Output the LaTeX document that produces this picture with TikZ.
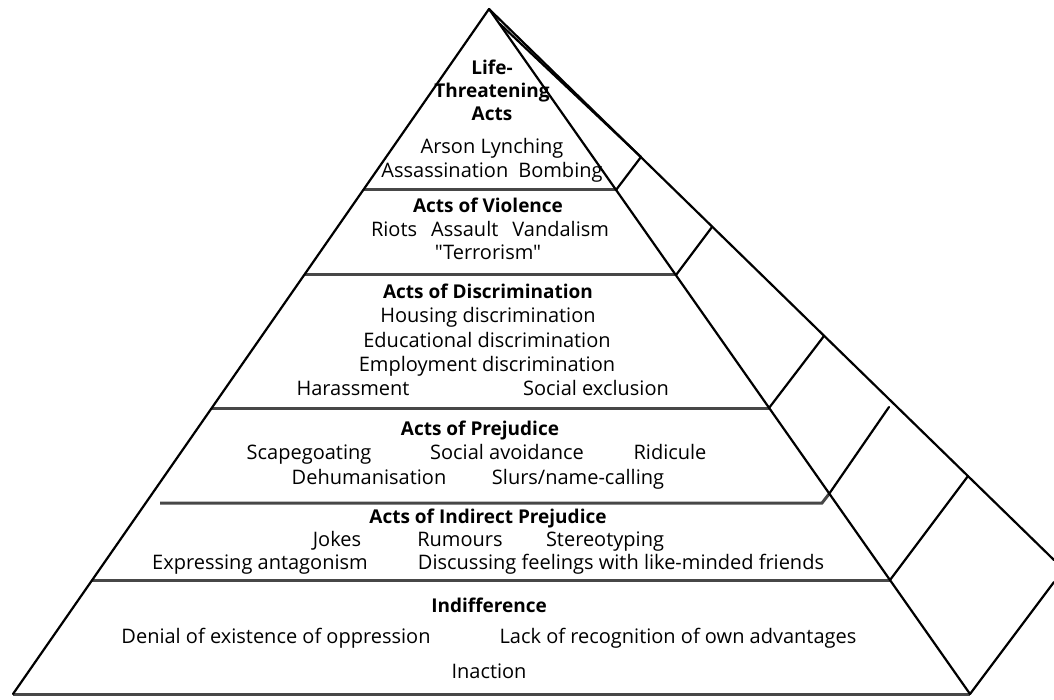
\documentclass[tikz,border=0pt]{standalone}
\usepackage{fontspec}
\setmainfont{Open Sans}
\newfontfamily\qfont[Ligatures=TeXOff]{Open Sans}
\usetikzlibrary{calc}
\begin{document}
\begin{tikzpicture}[x=1pt,y=-1pt,
  edge/.style={line width=2.2pt, black, line cap=round, line join=round},
  tierline/.style={line width=3pt, black!72},
  lbl/.style={anchor=base, inner sep=0pt, font=\fontsize{20}{24}\selectfont},
  hd/.style={anchor=base, inner sep=0pt, font=\fontsize{19}{23}\selectfont\bfseries}]
\useasboundingbox (0,0) rectangle (1054,700);
\fill[white] (0,0) rectangle (1054,700);
\begin{scope}
\clip (0,0) rectangle (1054,700);
% main corners
\coordinate (apex) at (489,9);
\coordinate (bl) at (13,694);
\coordinate (br) at (970,694);
\coordinate (backend) at (1054,560);
% tier points on left and front edges
\coordinate (L1) at (363,190); \coordinate (R1) at (616,190);
\coordinate (L2) at (304,275); \coordinate (R2) at (676,275);
\coordinate (L3) at (212,408); \coordinate (R3) at (769,408);
\coordinate (L4) at (160,503); \coordinate (R4a) at (822,503); \coordinate (R4) at (829,494);
\coordinate (L5) at (92,580);  \coordinate (R5) at (890,580);
% side face points on back edge
\coordinate (B1) at (641,157);
\coordinate (B2) at (712,227);
\coordinate (B3) at (824,336);
\coordinate (B4) at (889,407);
\coordinate (B5) at (968,476);
\coordinate (B6) at (1054,582);
\coordinate (F0) at (500,24);
% tier lines
\draw[tierline] (L1) -- (R1);
\draw[tierline] (L2) -- (R2);
\draw[tierline] (L3) -- (R3);
\draw[tierline] (L4) -- (R4a) -- (R4);
\draw[tierline] (L5) -- (R5);
\draw[tierline] (bl) -- (br);
% pyramid outline
\draw[edge] (bl) -- (apex) -- (br);
\draw[edge] (apex) -- (backend);
\draw[edge] (F0) -- (B1);
% side face cross lines
\draw[edge] (R1) -- (B1);
\draw[edge] (R2) -- (B2);
\draw[edge] (R3) -- (B3);
\draw[edge] (R4) -- (B4);
\draw[edge] (R5) -- (B5);
\draw[edge] (br) -- (B6);
\end{scope}
% tier 1
\node[hd] (t1a) at (492,75) {Life-};
\node[hd] (t1b) at (492,98) {Threatening};
\node[hd] (t1c) at (492,121) {Acts};
\node[lbl] (t1d) at (492,154) {Arson Lynching};
\node[lbl] (t1e) at (492,178) {Assassination\hspace{0.5em}Bombing};
% tier 2
\node[hd] (t2a) at (488,213) {Acts of Violence};
\node[lbl] (t2b) at (490,237) {Riots\hspace{0.7em}Assault\hspace{0.7em}Vandalism};
\node[lbl] (t2c) at (488,260) {\qfont "Terrorism"};
% tier 3
\node[hd] (t3a) at (488,299) {Acts of Discrimination};
\node[lbl] (t3b) at (488,323) {Housing discrimination};
\node[lbl] (t3c) at (487,347) {Educational discrimination};
\node[lbl] (t3d) at (487,371) {Employment discrimination};
\node[lbl] (t3e) at (353,395) {Harassment};
\node[lbl] (t3f) at (596,395) {Social exclusion};
% tier 4
\node[hd] (t4a) at (480,435) {Acts of Prejudice};
\node[lbl] (t4b) at (309,459) {Scapegoating};
\node[lbl] (t4c) at (507,459) {Social avoidance};
\node[lbl] (t4d) at (670,459) {Ridicule};
\node[lbl] (t4e) at (369,484) {Dehumanisation};
\node[lbl] (t4f) at (578,484) {Slurs/name-calling};
% tier 5
\node[hd] (t5a) at (488,523) {Acts of Indirect Prejudice};
\node[lbl] (t5b) at (337,546) {Jokes};
\node[lbl] (t5c) at (460,546) {Rumours};
\node[lbl] (t5d) at (605,546) {Stereotyping};
\node[lbl] (t5e) at (260,569) {Expressing antagonism};
\node[lbl] (t5f) at (621,569) {Discussing feelings with like-minded friends};
% tier 6
\node[hd] (t6a) at (489,612) {Indifference};
\node[lbl] (t6b) at (276,643) {Denial of existence of oppression};
\node[lbl] (t6c) at (678,643) {Lack of recognition of own advantages};
\node[lbl] (t6d) at (489,678) {Inaction};
\end{tikzpicture}
\end{document}
